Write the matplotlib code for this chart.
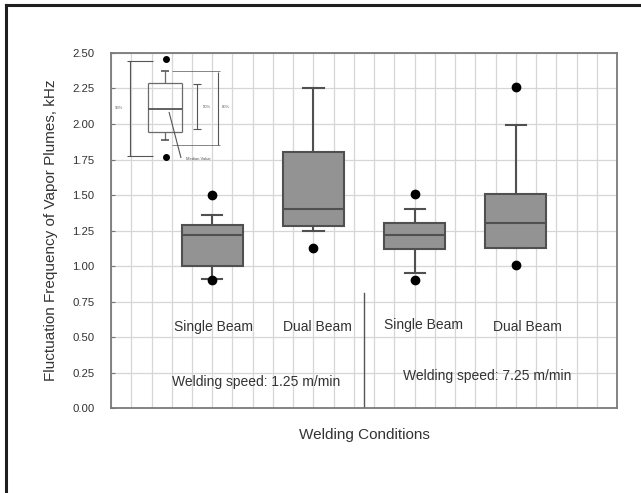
"""
Box plot of vapor plume fluctuation frequency for single / dual beam welding
at two welding speeds, with a small schematic key in the upper-left corner.
"""

import numpy as np
import matplotlib
matplotlib.use("Agg")
import matplotlib.pyplot as plt
from matplotlib.lines import Line2D

plt.rcParams["font.family"] = ["Liberation Sans", "DejaVu Sans"]

# ---- data ------------------------------------------------------------------
categories = ["Single Beam", "Dual Beam", "Single Beam", "Dual Beam"]
speed_labels = ["Welding speed: 1.25 m/min", "Welding speed: 7.25 m/min"]
whisker_low = [0.91, 1.25, 0.95, 1.13]
q1 = [1.00, 1.28, 1.12, 1.13]
median = [1.22, 1.40, 1.22, 1.30]
q3 = [1.29, 1.80, 1.30, 1.51]
whisker_high = [1.36, 2.25, 1.40, 1.99]
outliers = [[0.90, 1.50], [1.13], [0.90, 1.51], [1.01, 2.26]]
y_ticks = [0.00, 0.25, 0.50, 0.75, 1.00, 1.25, 1.50, 1.75, 2.00, 2.25, 2.50]

# where the annotations sit (data coords)
cat_label_x = [1.01, 2.04, 3.09, 4.11]
cat_label_y = [0.57, 0.57, 0.585, 0.57]
speed_label_x = [1.43, 3.72]
speed_label_y = [0.18, 0.225]

TEXT = "#333333"
EDGE = "#505050"

fig = plt.figure(figsize=(6.41, 4.93), dpi=100)
ax = fig.add_axes([0.1732, 0.1724, 0.7894, 0.7201])

stats = []
for i in range(len(categories)):
    stats.append({
        "whislo": whisker_low[i], "q1": q1[i], "med": median[i],
        "q3": q3[i], "whishi": whisker_high[i], "fliers": outliers[i],
    })
positions = np.arange(1, len(categories) + 1)
ax.bxp(stats, positions=positions, widths=0.6, capwidths=0.2,
       patch_artist=True, showfliers=True,
       boxprops=dict(facecolor="#939393", edgecolor=EDGE, linewidth=1.5),
       medianprops=dict(color=EDGE, linewidth=1.5),
       whiskerprops=dict(color=EDGE, linewidth=1.5),
       capprops=dict(color=EDGE, linewidth=1.5),
       flierprops=dict(marker="o", markerfacecolor="black",
                       markeredgecolor="black", markersize=6))

ax.set_xlim(0, 5)
ax.set_ylim(0, 2.5)
ax.set_yticks(y_ticks)
ax.set_yticklabels([f"{t:.2f}" for t in y_ticks], fontsize=8.2, color=TEXT)
ax.set_xticks([])
ax.set_xticks(np.arange(0, 5.01, 0.2), minor=True)
ax.tick_params(axis="x", which="both", length=0)
ax.tick_params(axis="y", direction="in", length=3, color="#777777", pad=12)
ax.grid(True, axis="y", which="major", color="#d6d6d6", linewidth=0.9)
ax.grid(True, axis="x", which="minor", color="#d6d6d6", linewidth=0.9)
ax.set_axisbelow(True)
for sp in ax.spines.values():
    sp.set_color("#7a7a7a")
    sp.set_linewidth(1.3)

# divider between the two welding speeds
ax.plot([2.5, 2.5], [0, 0.81], color="#555555", linewidth=1.0)

# category and speed annotations inside the plot
for x, y, name in zip(cat_label_x, cat_label_y, categories):
    ax.text(x, y, name, ha="center", va="center", fontsize=10, color=TEXT)
for x, y, name in zip(speed_label_x, speed_label_y, speed_labels):
    ax.text(x, y, name, ha="center", va="center", fontsize=10, color=TEXT)

ax.set_ylabel("Fluctuation Frequency of Vapor Plumes, kHz", fontsize=11,
              color=TEXT, labelpad=10)
ax.set_xlabel("Welding Conditions", fontsize=11, color=TEXT, labelpad=11)


# ---- schematic key (pixel positions from the reference) ---------------------
def px(x, y):
    """reference pixel -> data coords of the main axes"""
    return (x - 111) / 101.2, (408 - y) / 142.0


def seg(x0, y0, x1, y1, lw=0.8, color="#555555"):
    a, b = px(x0, y0)
    c, d = px(x1, y1)
    ax.plot([a, c], [b, d], color=color, linewidth=lw, solid_capstyle="butt")


kw = dict(lw=0.9, color="#6a6a6a")
# box
seg(148, 83, 182, 83, **kw); seg(148, 132, 182, 132, **kw)
seg(148, 83, 148, 132, **kw); seg(182, 83, 182, 132, **kw)
seg(148, 109, 182, 109, lw=1.3, color="#555555")
# whiskers + caps
seg(165, 71, 165, 83, **kw); seg(165, 132, 165, 140, **kw)
seg(161, 71, 169, 71, lw=1.2, color="#555555")
seg(161, 140, 169, 140, lw=1.2, color="#555555")
# dots
for yy in (59, 157):
    a, b = px(166, yy)
    ax.plot(a, b, "o", color="black", markersize=4)
# left bracket
seg(130, 61, 130, 156); seg(127, 61, 153, 61); seg(127, 156, 153, 156)
# inner right bracket
seg(197, 84, 197, 129); seg(193, 84, 201, 84); seg(193, 129, 201, 129)
# outer right bracket
seg(218, 72, 218, 145); seg(172, 71, 220, 71, lw=0.5)
seg(172, 145, 220, 145, lw=0.5)
# median pointer
seg(169, 112, 181, 158)

tiny = dict(fontsize=3, color="#555555", va="center")
a, b = px(115, 108); ax.text(a, b, "90%", ha="left", **tiny)
a, b = px(203, 107); ax.text(a, b, "50%", ha="left", **tiny)
a, b = px(222, 107); ax.text(a, b, "80%", ha="left", **tiny)
a, b = px(186, 159); ax.text(a, b, "Median Value", ha="left", **tiny)

# outer frame (top and left edges visible in the scan)
fig.add_artist(Line2D([6 / 641, 6 / 641], [0, 1 - 5 / 493],
                      color="#1e1e1e", linewidth=2.2,
                      transform=fig.transFigure))
fig.add_artist(Line2D([6 / 641, 1], [1 - 5 / 493, 1 - 5 / 493],
                      color="#1e1e1e", linewidth=2.2,
                      transform=fig.transFigure))

fig.savefig("out.png", dpi=100)
